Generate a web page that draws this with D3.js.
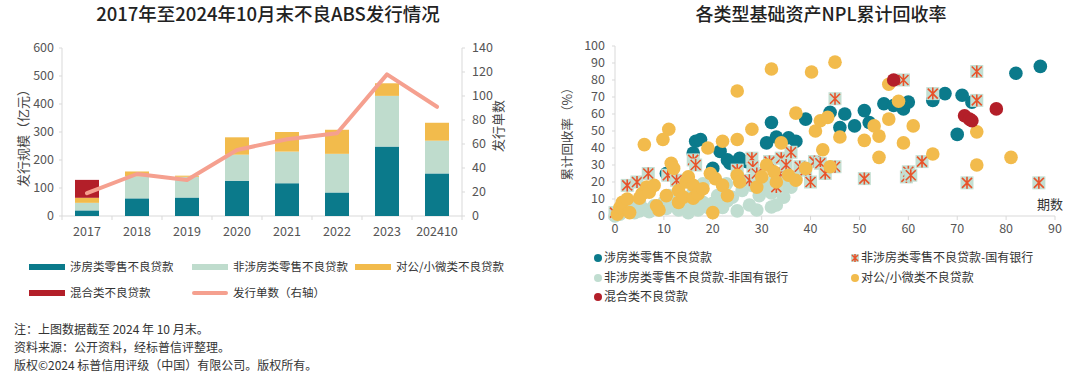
<!DOCTYPE html>
<html>
<head>
<meta charset="utf-8">
<script src="https://cdn.jsdelivr.net/npm/d3@7"></script>
<style>
  body { margin: 0; background: #fff; }
  text { font-family: "Noto Sans CJK SC", "Noto Sans", sans-serif; }
</style>
</head>
<body>
<svg id="chart" width="1080" height="374"></svg>
<script>
// left chart data
const years = ["2017", "2018", "2019", "2020", "2021", "2022", "2023", "202410"];
const houseRetail = [20, 63, 66, 126, 117, 84, 248, 152];
const nonHouseRetail = [27, 79, 74, 93, 113, 138, 181, 117];
const corpSmall = [18, 17, 4, 62, 70, 86, 45, 64];
const mixed = [64, 0, 0, 0, 0, 0, 0, 0];
const dealCount = [19, 35, 30, 55, 64, 69, 118, 91];
const barNames = ["涉房类零售不良贷款", "非涉房类零售不良贷款", "对公/小微类不良贷款", "混合类不良贷款"];
const barColors = ["#0b7a8b", "#bfdccd", "#f2bb4c", "#b31f29"];

// right chart data: [期数, 累计回收率%]
const tealPts = [[10.5,25],[16,37],[16.5,44],[17.5,45],[20,28],[21.5,38],[23,33],[23.5,31],[25.5,34],[27,32],[31,43],[32,55],[33,46.5],[35.5,46],[37,44],[39,57],[44,61],[46,52],[47,60],[49,53],[51,62],[52,55],[55,66],[57,65],[59,63],[60,67],[65,68],[67.5,72],[70,48],[71,71],[73,67],[82,84],[87,88]];
const mintPts = [[0,0],[1,1],[2,3],[3,5],[4,2],[5,3],[5,8],[6,4],[7,2.5],[7,15],[8,6],[9,3.5],[10,8],[10.5,4.5],[11,12],[12,6],[13,3.5],[14,11],[15,7],[15,2],[16,14],[17,3.5],[18,19],[18,8],[19,5],[20,7.5],[21,12],[22,5],[22.8,19],[23,9],[24,11],[25,3],[26,15],[27.5,6.5],[28,18],[29,3.5],[29.5,12],[30,16.5],[31,19.5],[32,5.3],[32,13.5],[33,6.5],[34.5,11],[34.5,18],[34.5,25],[35.5,19.5],[36,17],[37,22]];
const crossPts = [[0,2],[2.5,18],[4.5,20],[6.8,25],[10.8,24],[12.6,21],[16,33],[16.5,30],[25,27],[27.5,21],[28,34],[28.2,29],[29,25],[31.6,32],[33,17],[33.7,25],[34,34],[35,30],[36,37.5],[37.8,29],[39,27],[40,20],[40.8,32],[42,31],[43,25],[45,29],[45,69],[51,22],[59.6,23],[60,26],[60.5,24],[62.8,32],[59,80],[65,72],[72,19.5],[74,85],[74,68],[86.7,19.5]];
const yellowPts = [[0.5,1],[1,5],[1.5,8],[2.5,10],[3,2],[5,10.5],[5.5,13],[6,42],[6.5,17],[7,14],[8,18],[8.5,6],[9,3.5],[9.8,45],[10.5,12],[11,51],[11.5,31],[12,28],[13,8],[13,15],[14,11],[14.5,20],[15,23],[16,18],[16,10.5],[17,13],[18,16],[19,40],[19.5,25],[20,2],[20.5,22],[22,18],[22,44],[23,12],[25,45],[25,24],[25,73.5],[25.5,20],[28,51],[29,17],[30,23],[31,30],[32,86.5],[32.5,26],[33,20],[34,43],[35.5,24],[37,21],[37,60.5],[39,28],[40.2,84.7],[41,50],[42,56],[42.5,39],[43.5,58],[44,29],[45,90.5],[46,46.5],[51,44.5],[53,53],[54,47],[54,34.5],[56,77.5],[56,57],[58,67.5],[59,43],[61,53],[65,36.5],[74,49.5],[74,30],[81,34.5]];
const redPts = [[57,80],[71.5,59],[72.5,57],[73,56],[78,63]];
const scatterNames = ["涉房类零售不良贷款", "非涉房类零售不良贷款-国有银行", "非涉房类零售不良贷款-非国有银行", "对公/小微类不良贷款", "混合类不良贷款"];

const svg = d3.select("#chart");
const axisColor = "#d9d9d9";
const tickText = "#555";

// ---------- left chart ----------
svg.append("text")
  .attr("x", 268).attr("y", 21)
  .attr("text-anchor", "middle")
  .attr("font-size", 18.5).attr("font-weight", 500)
  .attr("fill", "#222")
  .text("2017年至2024年10月末不良ABS发行情况");

var x = d3.scaleBand().domain(years).range([62, 462]).paddingInner(0.52).paddingOuter(0.26);
var y = d3.scaleLinear().domain([0, 600]).range([216, 48]);
var y2 = d3.scaleLinear().domain([0, 140]).range([216, 48]);

var stackData = years.map(function(yr, i) {
  return { year: yr, a: houseRetail[i], b: nonHouseRetail[i], c: corpSmall[i], d: mixed[i] };
});
var series = d3.stack().keys(["a", "b", "c", "d"])(stackData);

var left = svg.append("g");

// axes lines
left.append("line").attr("x1", 62).attr("x2", 62).attr("y1", 48).attr("y2", 216).attr("stroke", axisColor);
left.append("line").attr("x1", 462).attr("x2", 462).attr("y1", 48).attr("y2", 216).attr("stroke", axisColor);
left.append("line").attr("x1", 62).attr("x2", 462).attr("y1", 216).attr("y2", 216).attr("stroke", axisColor);

y.ticks(6).forEach(function(t) {
  left.append("line").attr("x1", 59).attr("x2", 62).attr("y1", y(t)).attr("y2", y(t)).attr("stroke", axisColor);
  left.append("text").attr("x", 54).attr("y", y(t)).attr("dy", "0.35em")
    .attr("text-anchor", "end").attr("font-size", 12.5).attr("fill", tickText).text(t);
});
y2.ticks(7).forEach(function(t) {
  left.append("line").attr("x1", 462).attr("x2", 465).attr("y1", y2(t)).attr("y2", y2(t)).attr("stroke", axisColor);
  left.append("text").attr("x", 472).attr("y", y2(t)).attr("dy", "0.35em")
    .attr("text-anchor", "start").attr("font-size", 12.5).attr("fill", tickText).text(t);
});
// category separators
for (var k = 0; k <= years.length; k++) {
  var bx = 62 + k * x.step();
  left.append("line").attr("x1", bx).attr("x2", bx).attr("y1", 216).attr("y2", 220).attr("stroke", axisColor);
}
years.forEach(function(yr) {
  left.append("text").attr("x", x(yr) + x.bandwidth() / 2).attr("y", 236)
    .attr("text-anchor", "middle").attr("font-size", 12.5).attr("fill", tickText).text(yr);
});

left.append("text")
  .attr("transform", "translate(28,135) rotate(-90)")
  .attr("text-anchor", "middle").attr("font-size", 13).attr("fill", "#444")
  .text("发行规模（亿元）");
left.append("text")
  .attr("transform", "translate(503,126) rotate(-90)")
  .attr("text-anchor", "middle").attr("font-size", 13).attr("fill", "#444")
  .text("发行单数");

left.selectAll(".layer")
  .data(series)
  .enter()
  .append("g")
  .attr("fill", function(d, i) { return barColors[i]; })
  .selectAll("rect")
  .data(function(d) { return d; })
  .enter()
  .append("rect")
  .attr("x", function(d) { return x(d.data.year); })
  .attr("width", x.bandwidth())
  .attr("y", function(d) { return y(d[1]); })
  .attr("height", function(d) { return y(d[0]) - y(d[1]); });

var line = d3.line()
  .x(function(d, i) { return x(years[i]) + x.bandwidth() / 2; })
  .y(function(d) { return y2(d); });
left.append("path")
  .datum(dealCount)
  .attr("d", line)
  .attr("fill", "none")
  .attr("stroke", "#f5a08f")
  .attr("stroke-width", 4)
  .attr("stroke-linecap", "round")
  .attr("stroke-linejoin", "round");

// left legend
var legItems = [
  { name: barNames[0], color: barColors[0], x: 29, y: 267, type: "bar" },
  { name: barNames[1], color: barColors[1], x: 192, y: 267, type: "bar" },
  { name: barNames[2], color: barColors[2], x: 355, y: 267, type: "bar" },
  { name: barNames[3], color: barColors[3], x: 29, y: 293, type: "bar" },
  { name: "发行单数（右轴）", color: "#f5a08f", x: 192, y: 293, type: "line" }
];
legItems.forEach(function(it) {
  if (it.type === "bar") {
    left.append("rect").attr("x", it.x).attr("y", it.y - 3).attr("width", 36).attr("height", 6).attr("fill", it.color);
  } else {
    left.append("line").attr("x1", it.x + 2).attr("x2", it.x + 34).attr("y1", it.y).attr("y2", it.y)
      .attr("stroke", it.color).attr("stroke-width", 4).attr("stroke-linecap", "round");
  }
  left.append("text").attr("x", it.x + 41).attr("y", it.y).attr("dy", "0.35em")
    .attr("font-size", 11.5).attr("fill", "#333").text(it.name);
});

// notes
var notes = ["注：上图数据截至 2024 年 10 月末。", "资料来源：公开资料，经标普信评整理。", "版权©2024 标普信用评级（中国）有限公司。版权所有。"];
notes.forEach(function(n, i) {
  svg.append("text").attr("x", 14).attr("y", 334 + i * 18)
    .attr("font-size", 12).attr("fill", "#333").text(n);
});

// ---------- right chart ----------
svg.append("text")
  .attr("x", 821).attr("y", 21)
  .attr("text-anchor", "middle")
  .attr("font-size", 18).attr("font-weight", 500)
  .attr("fill", "#222")
  .text("各类型基础资产NPL累计回收率");

var sx = d3.scaleLinear().domain([0, 90]).range([615, 1055]);
var sy = d3.scaleLinear().domain([0, 100]).range([216, 46]);
var right = svg.append("g");

right.append("line").attr("x1", 615).attr("x2", 615).attr("y1", 46).attr("y2", 216).attr("stroke", axisColor);
right.append("line").attr("x1", 615).attr("x2", 1055).attr("y1", 216).attr("y2", 216).attr("stroke", axisColor);
sy.ticks(10).forEach(function(t) {
  right.append("line").attr("x1", 612).attr("x2", 615).attr("y1", sy(t)).attr("y2", sy(t)).attr("stroke", axisColor);
  right.append("text").attr("x", 605).attr("y", sy(t)).attr("dy", "0.35em")
    .attr("text-anchor", "end").attr("font-size", 12.5).attr("fill", tickText).text(t);
});
sx.ticks(9).forEach(function(t) {
  right.append("line").attr("x1", sx(t)).attr("x2", sx(t)).attr("y1", 216).attr("y2", 220).attr("stroke", axisColor);
  right.append("text").attr("x", sx(t)).attr("y", 233)
    .attr("text-anchor", "middle").attr("font-size", 12.5).attr("fill", tickText).text(t);
});
right.append("text")
  .attr("transform", "translate(572,131) rotate(-90)")
  .attr("text-anchor", "middle").attr("font-size", 12.5).attr("fill", "#444")
  .text("累计回收率（%）");
right.append("text").attr("x", 1050).attr("y", 209)
  .attr("text-anchor", "middle").attr("font-size", 13).attr("fill", "#333").text("期数");

var rDot = 6.8;
function dots(pts, color) {
  right.append("g").selectAll("circle")
    .data(pts).enter().append("circle")
    .attr("cx", function(d) { return sx(d[0]); })
    .attr("cy", function(d) { return sy(d[1]); })
    .attr("r", rDot)
    .attr("fill", color);
}
dots(tealPts, "#0b7a8b");
dots(mintPts, "#c0ddd0");

var crossG = right.append("g").selectAll("g")
  .data(crossPts).enter().append("g")
  .attr("transform", function(d) { return "translate(" + sx(d[0]) + "," + sy(d[1]) + ")"; });
crossG.append("rect").attr("x", -6.5).attr("y", -6.5).attr("width", 13).attr("height", 13).attr("fill", "#c3dfd2");
crossG.append("path")
  .attr("d", "M-5,-5L5,5M-5,5L5,-5M0,-6L0,6")
  .attr("stroke", "#e8532b").attr("stroke-width", 1.6).attr("fill", "none");

dots(yellowPts, "#f2bb4c");
dots(redPts, "#b31f29");

// right legend
var sLeg = [
  { name: scatterNames[0], color: "#0b7a8b", x: 598, y: 258, type: "dot" },
  { name: scatterNames[1], color: "#e8532b", x: 855, y: 258, type: "cross" },
  { name: scatterNames[2], color: "#c0ddd0", x: 598, y: 278, type: "dot" },
  { name: scatterNames[3], color: "#f2bb4c", x: 855, y: 278, type: "dot" },
  { name: scatterNames[4], color: "#b31f29", x: 598, y: 297, type: "dot" }
];
sLeg.forEach(function(it) {
  if (it.type === "dot") {
    right.append("circle").attr("cx", it.x).attr("cy", it.y).attr("r", 4).attr("fill", it.color);
  } else {
    right.append("rect").attr("x", it.x - 4).attr("y", it.y - 4).attr("width", 8).attr("height", 8).attr("fill", "#c3dfd2");
    right.append("path").attr("transform", "translate(" + it.x + "," + it.y + ")")
      .attr("d", "M-3,-3L3,3M-3,3L3,-3M0,-4L0,4")
      .attr("stroke", it.color).attr("stroke-width", 1.5);
  }
  right.append("text").attr("x", it.x + 6).attr("y", it.y).attr("dy", "0.35em")
    .attr("font-size", 12).attr("fill", "#333").text(it.name);
});
</script>
</body>
</html>
